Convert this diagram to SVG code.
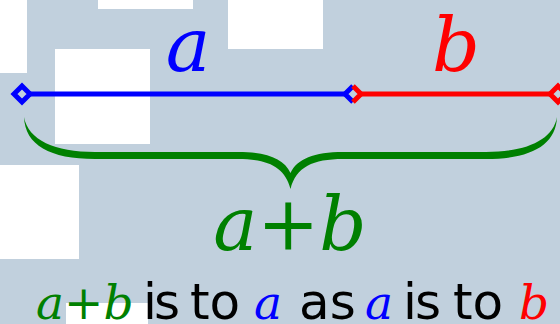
<svg xmlns="http://www.w3.org/2000/svg" width="560" height="324" viewBox="0 0 560 324">
  <style>
    .sq { fill: #ffffff; }
    .it { font-family: "DejaVu Serif", serif; font-style: italic; }
    .sans { font-family: "DejaVu Sans", sans-serif; fill: #000000; }
    .blue { fill: #0000ff; }
    .red { fill: #ff0000; }
    .green { fill: #008000; }
    .seg { fill: none; stroke-width: 5; stroke-linejoin: miter; }
  </style>
  <rect width="560" height="324" fill="#c1d0dd"/>
  <g id="background-squares">
    <rect class="sq" x="0" y="0" width="27" height="73"/>
    <rect class="sq" x="98" y="0" width="95" height="9"/>
    <rect class="sq" x="228" y="0" width="95" height="49"/>
    <rect class="sq" x="55" y="49" width="95" height="95"/>
    <rect class="sq" x="0" y="165" width="79" height="94"/>
    <rect class="sq" x="66" y="303" width="82" height="21"/>
  </g>
  <g id="connectors">
    <g id="segment-a">
      <path class="seg" stroke="#0000ff" d="M30,94 H345"/>
      <path class="seg" stroke="#0000ff" d="M22,86 L30,94 L22,102 L14,94 Z"/>
      <path class="seg" stroke="#0000ff" d="M353,86 L345,94 L353,102"/>
    </g>
    <g id="segment-b">
      <path class="seg" stroke="#ff0000" d="M361,94 H550"/>
      <path class="seg" stroke="#ff0000" d="M353,86 L361,94 L353,102"/>
      <path class="seg" stroke="#ff0000" d="M558,86 L566,94 L558,102 L550,94 Z"/>
    </g>
    <g id="brace">
      <path fill="#008000" d="M24,117 C25,145 50,159 95,159 L238,159 C268,159 285,167 290.5,189 C296,167 313,159 343,159 L486,159 C531,159 556,145 557,117 C553,140 526,152 486,152 L343,152 C314,152 297,159 290.5,173 C284,159 267,152 238,152 L95,152 C55,152 28,140 24,117 Z"/>
    </g>
  </g>
  <g id="label-a">
    <text class="it blue" x="188" y="71" font-size="75" text-anchor="middle">a</text>
  </g>
  <g id="label-b">
    <text class="it red" x="456" y="71" font-size="75" text-anchor="middle">b</text>
  </g>
  <g id="label-sum">
    <text class="it green" x="290" y="250" font-size="74" text-anchor="middle">a+b</text>
  </g>
  <g id="caption">
    <text y="319" font-size="50">
      <tspan class="it green" x="36" font-size="47">a+b</tspan>
      <tspan class="sans" x="143" letter-spacing="-3">is</tspan>
      <tspan class="sans" x="190" letter-spacing="0">to</tspan>
      <tspan class="it blue" x="254" font-size="47">a</tspan>
      <tspan class="sans" x="299">as</tspan>
      <tspan class="it blue" x="365" font-size="47">a</tspan>
      <tspan class="sans" x="403" letter-spacing="-2">is</tspan>
      <tspan class="sans" x="453" letter-spacing="0">to</tspan>
      <tspan class="it red" x="519" font-size="47">b</tspan>
    </text>
  </g>
</svg>
